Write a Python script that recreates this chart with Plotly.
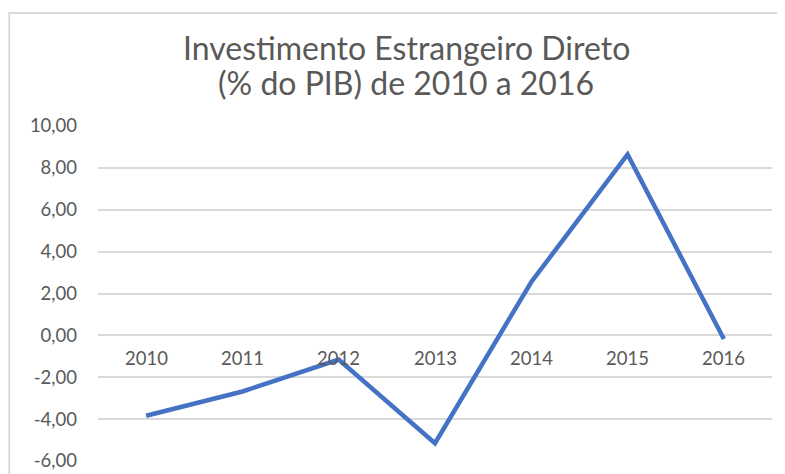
import plotly.graph_objects as go

years = ["2010", "2011", "2012", "2013", "2014", "2015", "2016"]
ide_pct_pib = [-3.84, -2.68, -1.16, -5.15, 2.55, 8.64, -0.17]
y_ticks = [-6, -4, -2, 0, 2, 4, 6, 8, 10]
y_tick_text = [f"{v:.2f}".replace(".", ",") for v in y_ticks]
title_lines = ["Investimento Estrangeiro Direto", "(% do PIB) de 2010 a 2016"]

OFF = 8  # default page body margin
W, H = 785 - OFF, 474 - OFF
ml, mr, mt, mb = 98 - OFF, 13, 126 - OFF, 13
pw, ph = W - ml - mr, H - mt - mb

fig = go.Figure()
fig.add_trace(go.Scatter(
    x=list(range(len(years))), y=ide_pct_pib, mode="lines",
    line=dict(color="#4472C4", width=4.5),
    text=years, hovertemplate="%{text}: %{y:.2f}<extra></extra>",
    showlegend=False,
))

# x category labels sit just under the zero line (Excel style)
for i, yr in enumerate(years):
    fig.add_annotation(x=i, y=0, xref="x", yref="y", text=yr, showarrow=False,
                       yshift=-23, font=dict(family="Lato", size=18.5, color="#595959"))

for k, (line, ypx) in enumerate(zip(title_lines, [47.5, 82])):
    fig.add_annotation(
        x=(406 - 98) / pw, y=(H - mb - (ypx - OFF)) / ph, xref="paper", yref="paper",
        text=line, showarrow=False, xanchor="center", yanchor="middle",
        font=dict(family="Lato", size=32, color="#595959"),
    )

# chart border
fig.add_shape(type="rect", xref="paper", yref="paper",
              x0=(1.2 - ml) / pw, x1=(W + 20 - ml) / pw,
              y0=-40 / ph, y1=(H - mb - 5) / ph,
              line=dict(color="#d9d9d9", width=1.8), layer="below")

fig.update_layout(
    width=W, height=H, margin=dict(l=ml, r=mr, t=mt, b=mb, autoexpand=False),
    paper_bgcolor="white", plot_bgcolor="white",
    xaxis=dict(showticklabels=False, showgrid=False, automargin=False,
               zeroline=False, showline=False, range=[-0.5, len(years) - 0.5]),
    yaxis=dict(range=[-6, 10], tickvals=y_ticks, ticktext=y_tick_text,
               showgrid=True, gridcolor="#d9d9d9", gridwidth=1.5, automargin=False,
               zeroline=False, showline=False, ticks="",
               tickfont=dict(family="Lato", size=18.5, color="#595959"),
               ticklabelstandoff=20),
)

fig.write_html("out.html")
